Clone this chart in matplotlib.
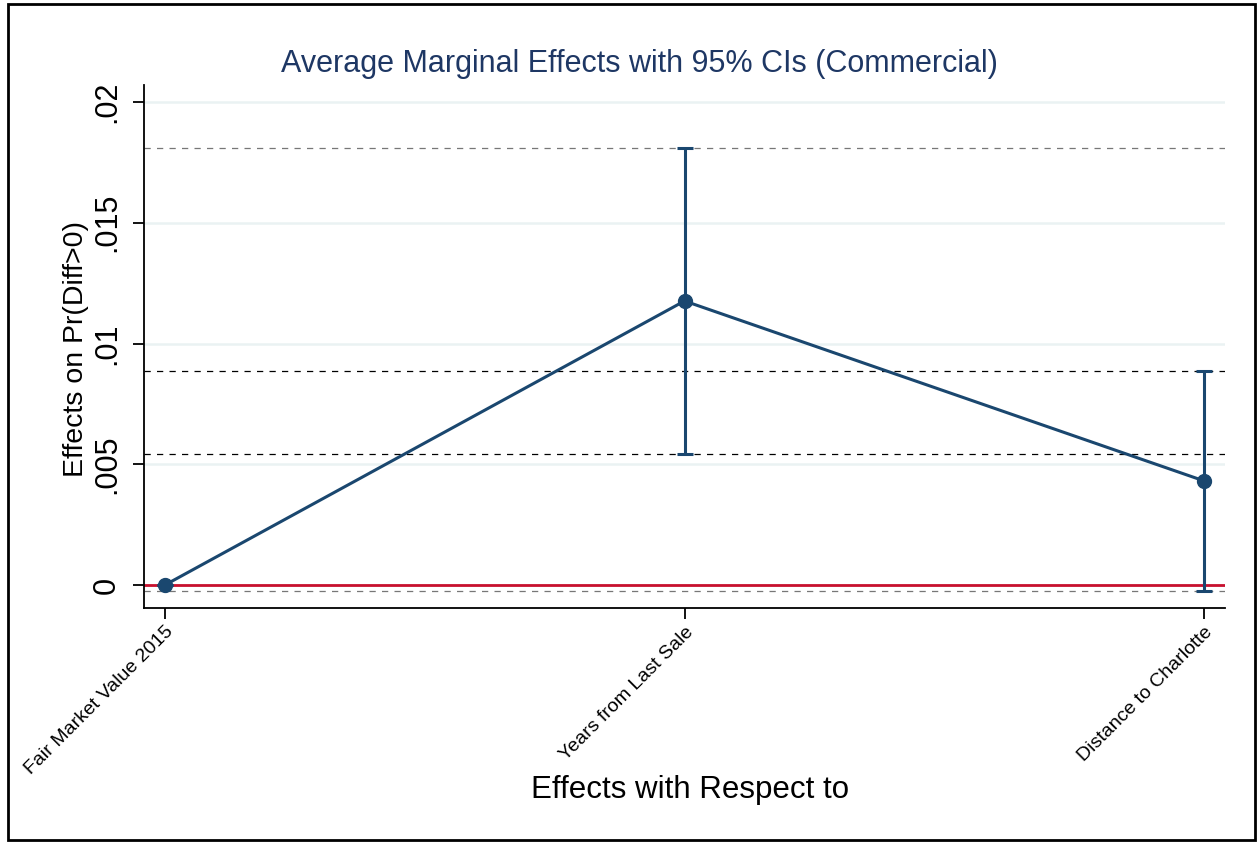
import matplotlib.pyplot as plt
from matplotlib.patches import Rectangle

plt.rcParams['font.family'] = ['Liberation Sans', 'DejaVu Sans']

# data
categories = ["Fair Market Value 2015", "Years from Last Sale", "Distance to Charlotte"]
effects = [0.0, 0.01176, 0.00431]
ci_low = [0.0, 0.00542, -0.00025]
ci_high = [0.0, 0.01810, 0.00886]
ytick_vals = [0, 0.005, 0.01, 0.015, 0.02]
ytick_labels = ["0", ".005", ".01", ".015", ".02"]

navy = "#1a476f"

fig = plt.figure(figsize=(12.59, 8.42), dpi=100)
ax = fig.add_axes([0.1144, 0.2779, 0.8586, 0.6211])

x = list(range(len(categories)))

# gridlines
for yv in ytick_vals:
    ax.axhline(yv, color="#eaf2f3", lw=1.8, zorder=0)

# dashed reference lines at the CI bounds
ref_lines = [(ci_high[1], "#777777"), (ci_high[2], "black"),
             (ci_low[1], "black"), (ci_low[2], "#777777")]
for yv, col in ref_lines:
    ax.axhline(yv, color=col, lw=0.9, ls=(0, (5, 5)), zorder=1)

ax.axhline(0, color="#c8102e", lw=2.0, zorder=2)

yerr = [[e - lo for e, lo in zip(effects, ci_low)],
        [hi - e for e, hi in zip(effects, ci_high)]]
ax.errorbar(x, effects, yerr=yerr, color=navy, lw=2.2, marker="o", ms=10,
            capsize=6, capthick=2.2, zorder=3)

ax.set_xlim(-0.04, 2.04)
ax.set_ylim(-0.00095, 0.0207)

ax.set_yticks(ytick_vals)
ax.set_yticklabels(ytick_labels, rotation=90, va="center", fontsize=22)
ax.set_xticks(x)
ax.set_xticklabels(categories, rotation=45, ha="right", rotation_mode="anchor",
                   fontsize=14)
ax.tick_params(axis="both", direction="out", length=8, width=1.3, pad=8)
ax.tick_params(axis="x", pad=3)

for side in ["top", "right"]:
    ax.spines[side].set_visible(False)
for side in ["left", "bottom"]:
    ax.spines[side].set_linewidth(1.3)

ax.set_ylabel("Effects on Pr(Diff>0)", fontsize=20.5)
ax.yaxis.set_label_coords(-0.051, 0.495)
fig.text(0.548, 0.062, "Effects with Respect to", fontsize=22.5, ha="center", va="center")
fig.text(0.508, 0.924, "Average Marginal Effects with 95% CIs (Commercial)",
         fontsize=22, ha="center", va="center", color="#1e3764")

# frame around the whole figure
fig.patches.append(Rectangle((0.0064, 0.0024), 0.9904, 0.9926, transform=fig.transFigure,
                             fill=False, edgecolor="black", lw=2))

fig.savefig("out.png", dpi=100)
